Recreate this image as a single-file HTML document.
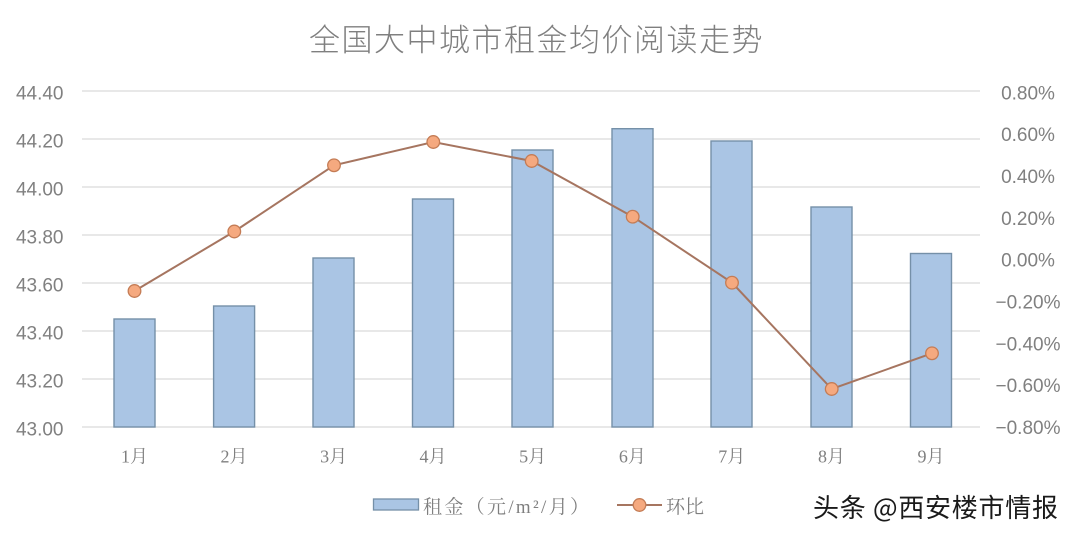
<!DOCTYPE html>
<html>
<head>
<meta charset="utf-8">
<style>
  html,body{margin:0;padding:0;background:#fff;}
  svg{display:block;}
  .ax{font-family:"Liberation Sans","Noto Sans CJK SC",sans-serif;font-size:19px;fill:#808080;}
  .cat{font-family:"Liberation Serif","Noto Serif CJK SC",serif;font-size:18px;fill:#7f7f7f;}
  .leg{font-family:"Liberation Serif","Noto Serif CJK SC",serif;font-size:19px;fill:#7f7f7f;}
</style>
</head>
<body>
<svg width="1080" height="540" viewBox="0 0 1080 540" xmlns="http://www.w3.org/2000/svg">
  <rect width="1080" height="540" fill="#fff"/>
  <!-- title -->
  <text x="309" y="51" font-family="'Noto Sans CJK SC','WenQuanYi Zen Hei',sans-serif" font-size="31" font-weight="300" fill="#7f7f7f" letter-spacing="1.5">全国大中城市租金均价阅读走势</text>

  <!-- gridlines -->
  <g stroke="#d9d9d9" stroke-width="1.3">
    <line x1="82" y1="91" x2="980" y2="91"/>
    <line x1="82" y1="139" x2="980" y2="139"/>
    <line x1="82" y1="187" x2="980" y2="187"/>
    <line x1="82" y1="235" x2="980" y2="235"/>
    <line x1="82" y1="283" x2="980" y2="283"/>
    <line x1="82" y1="331" x2="980" y2="331"/>
    <line x1="82" y1="379" x2="980" y2="379"/>
    <line x1="82" y1="427" x2="980" y2="427"/>
  </g>

  <!-- left axis labels -->
  <g class="ax" text-anchor="end">
    <text x="63.5" y="99.3">44.40</text>
    <text x="63.5" y="147.3">44.20</text>
    <text x="63.5" y="195.3">44.00</text>
    <text x="63.5" y="243.3">43.80</text>
    <text x="63.5" y="291.3">43.60</text>
    <text x="63.5" y="339.3">43.40</text>
    <text x="63.5" y="387.3">43.20</text>
    <text x="63.5" y="435.3">43.00</text>
  </g>

  <!-- right axis labels -->
  <g class="ax" text-anchor="middle">
    <text x="1028" y="99.3">0.80%</text>
    <text x="1028" y="141.1">0.60%</text>
    <text x="1028" y="183">0.40%</text>
    <text x="1028" y="224.8">0.20%</text>
    <text x="1028" y="266.7">0.00%</text>
    <text x="1028" y="308.5">−0.20%</text>
    <text x="1028" y="350.4">−0.40%</text>
    <text x="1028" y="392.2">−0.60%</text>
    <text x="1028" y="434">−0.80%</text>
  </g>

  <!-- bars -->
  <g fill="#aac5e4" stroke="#7590a8" stroke-width="1.4">
    <rect x="114" y="319" width="41" height="108"/>
    <rect x="213.6" y="306" width="41" height="121"/>
    <rect x="313" y="258" width="41" height="169"/>
    <rect x="412.5" y="199" width="41" height="228"/>
    <rect x="512" y="150" width="41" height="277"/>
    <rect x="612" y="128.7" width="41" height="298.3"/>
    <rect x="711" y="141" width="41" height="286"/>
    <rect x="811" y="207" width="41" height="220"/>
    <rect x="910.5" y="253.5" width="41" height="173.5"/>
  </g>

  <!-- line -->
  <polyline fill="none" stroke="#a67560" stroke-width="2"
    points="134.5,291 234.3,231.5 334,165.3 433.3,142 531.7,161 632.7,216.7 732,282.7 831.7,389 932,353.3"/>
  <g fill="#f5a97f" stroke="#c47c55" stroke-width="1.3">
    <circle cx="134.5" cy="291" r="6.3"/>
    <circle cx="234.3" cy="231.5" r="6.3"/>
    <circle cx="334" cy="165.3" r="6.3"/>
    <circle cx="433.3" cy="142" r="6.3"/>
    <circle cx="531.7" cy="161" r="6.3"/>
    <circle cx="632.7" cy="216.7" r="6.3"/>
    <circle cx="732" cy="282.7" r="6.3"/>
    <circle cx="831.7" cy="389" r="6.3"/>
    <circle cx="932" cy="353.3" r="6.3"/>
  </g>

  <!-- category labels -->
  <g class="cat" text-anchor="middle">
    <text x="134.5" y="462.5">1月</text>
    <text x="234" y="462.5">2月</text>
    <text x="333.6" y="462.5">3月</text>
    <text x="433" y="462.5">4月</text>
    <text x="532.6" y="462.5">5月</text>
    <text x="632.4" y="462.5">6月</text>
    <text x="731.8" y="462.5">7月</text>
    <text x="831.5" y="462.5">8月</text>
    <text x="931" y="462.5">9月</text>
  </g>

  <!-- legend -->
  <rect x="373.5" y="499" width="45" height="11" fill="#aac5e4" stroke="#7590a8" stroke-width="1.3"/>
  <text class="leg" x="423" y="513" textLength="166" lengthAdjust="spacing">租金（元/m²/月）</text>
  <line x1="617" y1="505" x2="662" y2="505" stroke="#a67560" stroke-width="2"/>
  <circle cx="639.5" cy="505" r="6.3" fill="#f5a97f" stroke="#c47c55" stroke-width="1.3"/>
  <text class="leg" x="666" y="513" font-size="22">环比</text>

  <!-- watermark -->
  <text x="814" y="517" font-family="'Noto Sans CJK SC','WenQuanYi Zen Hei',sans-serif" font-size="26" fill="#ffffff" transform="translate(1,1)" textLength="245" lengthAdjust="spacing">头条 @西安楼市情报</text>
  <text x="813" y="517" font-family="'Noto Sans CJK SC','WenQuanYi Zen Hei',sans-serif" font-size="26" fill="#1a1a1a" textLength="245" lengthAdjust="spacing">头条 @西安楼市情报</text>
</svg>
</body>
</html>
